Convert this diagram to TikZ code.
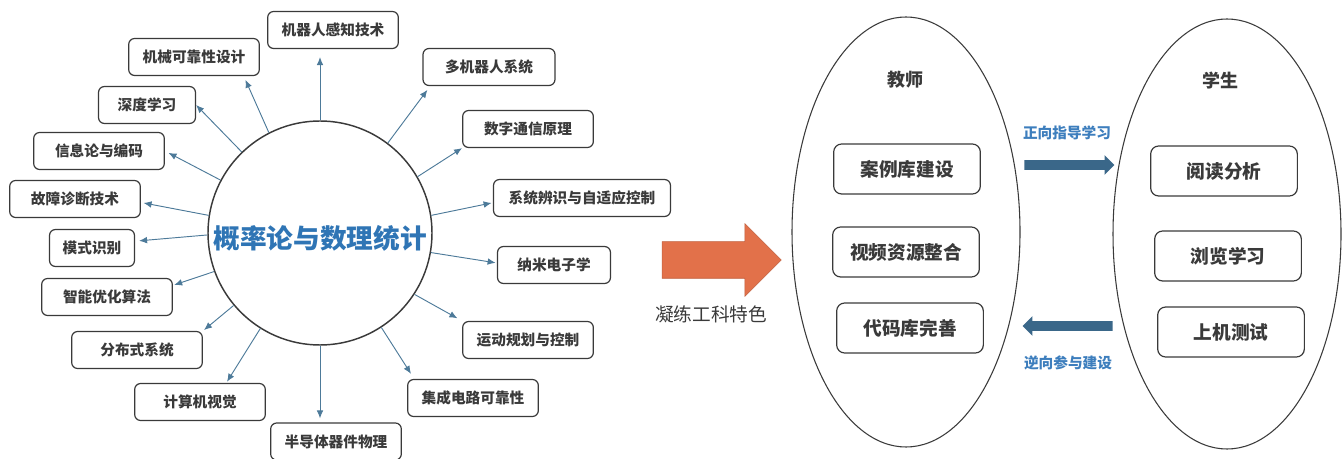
\documentclass[tikz,border=0pt]{standalone}
\usepackage{fontspec}
\setmainfont{Noto Sans CJK SC}
\usetikzlibrary{shapes, arrows, arrows.meta}
\definecolor{hubblue}{HTML}{2F75B5}
\definecolor{linkblue}{HTML}{4D7A99}
\definecolor{boxgray}{HTML}{3A3A3A}
\definecolor{flowblue}{HTML}{3A6789}
\definecolor{refineorange}{HTML}{E2714A}
\definecolor{tagblue}{HTML}{3D7EBD}
\tikzstyle{hub} = [circle, draw=boxgray, line width=1.1pt, minimum size=168pt, inner sep=0pt, text height=25pt, text depth=2.4pt, text=hubblue, font=\fontsize{20pt}{22pt}\selectfont\bfseries]
\tikzstyle{topic} = [rectangle, rounded corners=4.5pt, draw=boxgray, line width=0.9pt, minimum width=98pt, minimum height=27.75pt, text=boxgray, font=\fontsize{11pt}{13pt}\selectfont\bfseries]
\tikzstyle{role} = [ellipse, draw=boxgray, line width=0.8pt, minimum width=171pt, minimum height=322.5pt, inner sep=0pt]
\tikzstyle{rolename} = [text=boxgray, font=\fontsize{13.5pt}{15pt}\selectfont\bfseries]
\tikzstyle{task} = [rectangle, rounded corners=6pt, draw=boxgray, line width=0.9pt, minimum width=110pt, minimum height=37.5pt, text=boxgray, font=\fontsize{14pt}{16pt}\selectfont\bfseries]
\tikzstyle{flow} = [single arrow, fill=flowblue, minimum height=67.5pt, single arrow head extend=3.75pt, single arrow tip angle=90, inner xsep=0pt, inner ysep=3.375pt]
\tikzstyle{tag} = [text=tagblue, font=\fontsize{11pt}{13pt}\selectfont\bfseries]
\tikzstyle{line} = [draw=linkblue, line width=0.7pt, -{Latex[length=6pt, width=5pt]}]

\begin{document}
\begin{tikzpicture}[x=0.75pt, y=-0.75pt]
    \useasboundingbox (0,0) rectangle (1344,459);

    % course and its related subjects
    \node[hub] (hub) at (320,233) {概率论与数理统计};
    \node[topic] (robot) at (333,30) {机器人感知技术};
    \node[topic] (mechrel) at (194,57) {机械可靠性设计};
    \node[topic, minimum width=72.75pt] (deep) at (147,105) {深度学习};
    \node[topic] (info) at (99,151) {信息论与编码};
    \node[topic] (fault) at (75,199) {故障诊断技术};
    \node[topic, minimum width=63.75pt] (pattern) at (92,248) {模式识别};
    \node[topic] (optim) at (107,297) {智能优化算法};
    \node[topic] (distrib) at (137,350) {分布式系统};
    \node[topic] (vision) at (200,402) {计算机视觉};
    \node[topic] (semi) at (336,441.5) {半导体器件物理};
    \node[topic] (icrel) at (473,398) {集成电路可靠性};
    \node[topic] (motion) at (528,340) {运动规划与控制};
    \node[topic, minimum width=84.75pt] (nano) at (554,265) {纳米电子学};
    \node[topic, minimum width=132.75pt] (sysid) at (582,198) {系统辨识与自适应控制};
    \node[topic] (comm) at (528,129) {数字通信原理};
    \node[topic, minimum width=99pt] (multi) at (489,67) {多机器人系统};

    \path[line, shorten >=6pt] (hub.90) -- (robot.south -| hub.north);
    \path[line, shorten >=3pt] (hub.117) -- (mechrel.-21);
    \path[line] (hub.134) -- (deep.east);
    \path[line, shorten >=3pt] (hub.152) -- (info.east);
    \path[line, shorten >=2pt] (hub.171) -- (fault.-3);
    \path[line, shorten >=3pt] (hub.181) -- (pattern.9);
    \path[line, shorten >=1pt] (hub.200) -- (optim.10);
    \path[line, shorten >=1pt] (hub.220) -- (distrib.north east);
    \path[line, shorten >=1pt] (hub.238) -- (vision.36);
    \path[line, shorten >=3pt] (hub.270) -- (semi.north -| hub.south);
    \path[line, shorten >=4.5pt] (hub.-57) -- (icrel.162);
    \path[line, shorten >=4pt] (hub.-33) -- (motion.north west);
    \path[line, shorten >=1pt] (hub.-10) -- (nano.178);
    \path[line, shorten >=1pt] (hub.9) -- (sysid.183);
    \path[line] (hub.30) -- (comm.south west);
    \path[line, shorten >=3.5pt] (hub.53) -- (multi.198);

    % refining step
    \node[single arrow, fill=refineorange, draw=refineorange!85!black, line width=0.4pt, minimum height=89.25pt, single arrow head extend=13.5pt, single arrow tip angle=90, inner xsep=0pt, inner ysep=13.5pt] (refine) at (712.5,260) {};
    \node[text=boxgray, font=\fontsize{14pt}{16pt}\selectfont] (refinetag) at (711,314) {凝练工科特色};

    % teacher and student
    \node[role] (teacher) at (906,232) {};
    \node[role] (student) at (1227,234) {};
    \node[rolename] (teachername) at (905,80) {教师};
    \node[rolename] (studentname) at (1220,81) {学生};

    \node[task] (cases) at (907,169) {案例库建设};
    \node[task] (videos) at (906,252) {视频资源整合};
    \node[task] (codes) at (910,328) {代码库完善};
    \node[task] (reading) at (1224,171) {阅读分析};
    \node[task] (browsing) at (1228,256) {浏览学习};
    \node[task] (testing) at (1231,332) {上机测试};

    \node[flow] (guide) at (1067,165) {};
    \node[flow, shape border rotate=180] (feedback) at (1070,326) {};
    \node[tag] (guidetag) at (1067,133) {正向指导学习};
    \node[tag] (feedbacktag) at (1068,363) {逆向参与建设};
\end{tikzpicture}
\end{document}
